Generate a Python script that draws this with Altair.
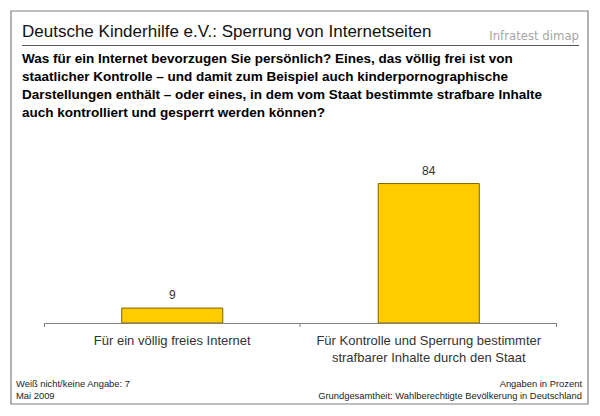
import altair as alt
import pandas as pd

categories = ["Für ein völlig freies Internet",
              "Für Kontrolle und Sperrung bestimmter\nstrafbarer Inhalte durch den Staat"]
values = [9, 84]

title_text = "Deutsche Kinderhilfe e.V.: Sperrung von Internetseiten"
brand_text = "Infratest dimap"
question_lines = [
    "Was für ein Internet bevorzugen Sie persönlich? Eines, das völlig frei ist von",
    "staatlicher Kontrolle – und damit zum Beispiel auch kinderpornographische",
    "Darstellungen enthält – oder eines, in dem vom Staat bestimmte strafbare Inhalte",
    "auch kontrolliert und gesperrt werden können?",
]
footer_left = ["Weiß nicht/keine Angabe: 7", "Mai 2009"]
footer_right = ["Angaben in Prozent", "Grundgesamtheit: Wahlberechtigte Bevölkerung in Deutschland"]

W, H = 513, 166
FONT = "Liberation Sans, Arial, sans-serif"

df = pd.DataFrame({"cat": categories, "val": values})
one = pd.DataFrame({"a": [0]})

xscale = alt.Scale(domain=categories, paddingInner=0.606, paddingOuter=0.303)
yscale = alt.Scale(domain=[0, 100])
X = alt.X("cat:N", scale=xscale, axis=None, sort=categories)
Y = alt.Y("val:Q", scale=yscale, axis=None)

base = alt.Chart(df)

bars = base.mark_bar(color="#FFCC00", stroke="#7a6400", strokeWidth=1).encode(x=X, y=Y)
vals = base.mark_text(baseline="bottom", dy=-6, fontSize=12, color="#333333", font=FONT).encode(
    x=X, y=Y, text="val:Q")
cat_labels = base.mark_text(baseline="alphabetic", lineBreak="\n", lineHeight=17, fontSize=13,
                            color="#333333", font=FONT).encode(
    x=X, y=alt.value(188), text="cat:N")

axis_line = alt.Chart(one).mark_rule(color="#808080", strokeWidth=1).encode(
    x=alt.value(0), x2=alt.value(W), y=alt.value(H + 0.5))
tick_layers = [
    alt.Chart(one).mark_rule(color="#808080").encode(
        x=alt.value(p), y=alt.value(H), y2=alt.value(H + 4))
    for p in [0.5, 256, W - 0.5]
]

border = alt.Chart(one).mark_rect(fill=None, stroke="#808080", strokeWidth=1.2).encode(
    x=alt.value(-33), x2=alt.value(544), y=alt.value(-146), y2=alt.value(247))

title = alt.Chart(one).mark_text(align="left", baseline="alphabetic", fontSize=17,
                                 color="#111111", font=FONT).encode(
    x=alt.value(-22), y=alt.value(-120), text=alt.value(title_text))
brand = alt.Chart(one).mark_text(align="right", baseline="alphabetic", fontSize=13,
                                 color="#a6a6a6", font="Liberation Sans Narrow, DejaVu Sans Condensed, sans-serif").encode(
    x=alt.value(535), y=alt.value(-117), text=alt.value(brand_text))
title_rule = alt.Chart(one).mark_rule(color="#555555", strokeWidth=1).encode(
    x=alt.value(-22), x2=alt.value(535), y=alt.value(-111.5))

q_layers = [
    alt.Chart(one).mark_text(align="left", baseline="alphabetic", fontSize=13.5,
                             fontWeight="bold", color="#000000", font=FONT).encode(
        x=alt.value(-22), y=alt.value(-94 + 18 * i), text=alt.value(t))
    for i, t in enumerate(question_lines)
]

foot_layers = []
for i, t in enumerate(footer_left):
    foot_layers.append(alt.Chart(one).mark_text(align="left", baseline="alphabetic", fontSize=9.4,
                                                color="#222222", font=FONT).encode(
        x=alt.value(-28), y=alt.value(230 + 12 * i), text=alt.value(t)))
for i, t in enumerate(footer_right):
    foot_layers.append(alt.Chart(one).mark_text(align="right", baseline="alphabetic", fontSize=9.4,
                                                color="#222222", font=FONT).encode(
        x=alt.value(538), y=alt.value(230 + 12 * i), text=alt.value(t)))

chart = alt.layer(border, title, brand, title_rule, *q_layers, bars, vals, cat_labels,
                  axis_line, *tick_layers, *foot_layers).properties(
    width=W, height=H,
    autosize=alt.AutoSizeParams(type="none"),
    padding={"left": 36, "top": 149, "right": 35, "bottom": 85},
    background="white",
).configure_view(stroke=None)

chart.save("out.html", embed_options={"renderer": "svg", "actions": False})
